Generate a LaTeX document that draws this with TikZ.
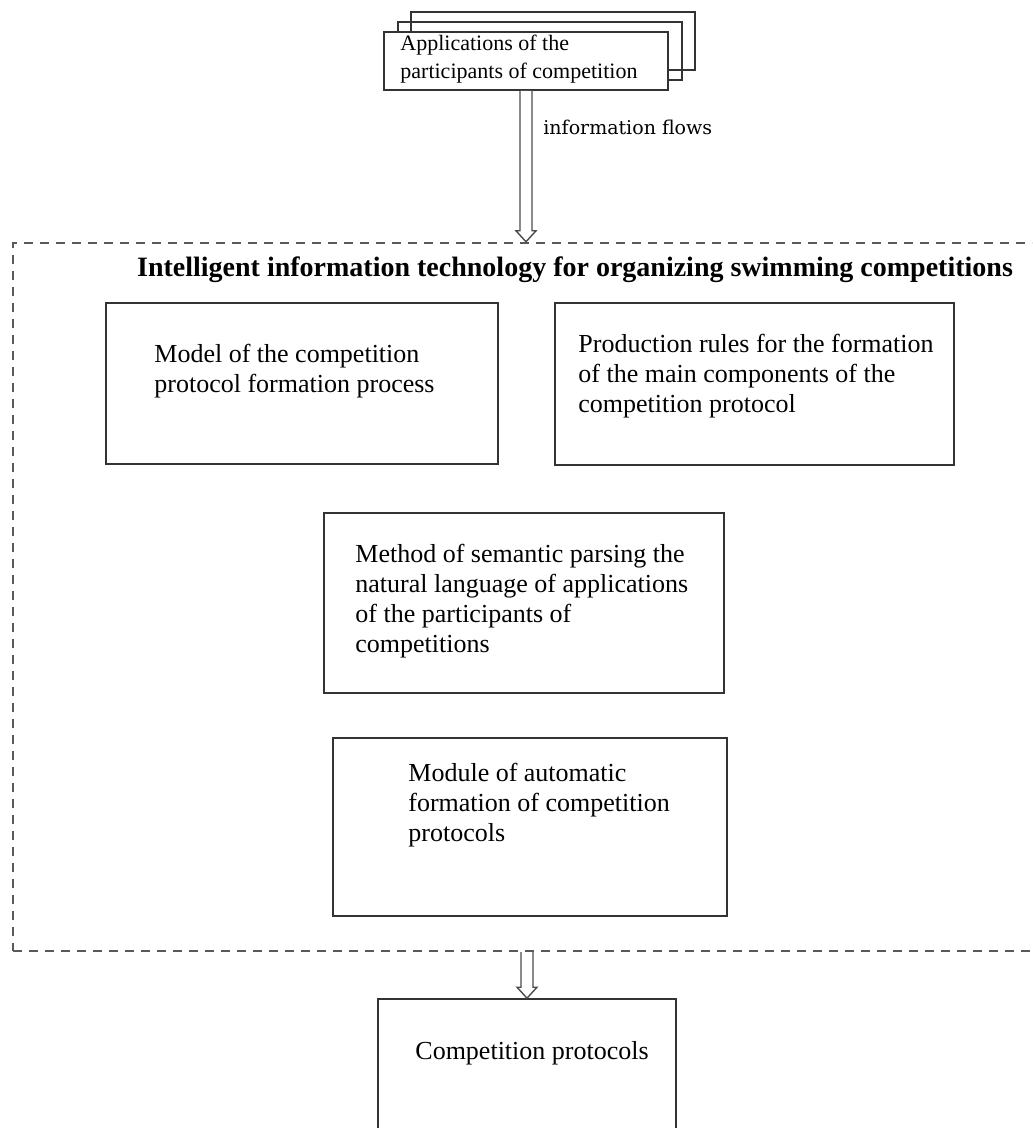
\documentclass[tikz,border=0pt]{standalone}
\usepackage{fontspec}
\setmainfont{Liberation Serif}
\newfontfamily\flowfont{DejaVu Serif}
\usepackage{tikz}
\usetikzlibrary{calc}
\definecolor{framegray}{rgb}{0.35,0.35,0.35}

% hollow arrow for the information flows
\newcommand{\flowarrow}[2]{%
  \draw[flowline] let \p1=(#1), \p2=(#2) in
    (\x1-3pt,\y1) -- (\x1-3pt,\y2+5.5pt) -- (\x1-5pt,\y2+5.5pt) -- (\x1,\y2)
    -- (\x1+5pt,\y2+5.5pt) -- (\x1+3pt,\y2+5.5pt) -- (\x1+3pt,\y1);}

\begin{document}
\begin{tikzpicture}[x=0.5pt,y=-0.5pt,
    box/.style={draw=black!80,line width=0.8pt,inner sep=0},
    appbox/.style={box,minimum width=142pt,minimum height=29pt},
    boxtext/.style={anchor=north west,inner sep=0,align=left,font=\fontsize{13}{15}\selectfont},
    flowline/.style={draw=black!70,line width=0.7pt,fill=white,line join=miter}]
      \useasboundingbox (0,0) rectangle (1032,1128);
      \clip (0,0) rectangle (1032,1128);
      % Applications (stacked sheets)
      \foreach \d/\dx/\dy in {2/27/-20,1/14/-10}
        \node[appbox] (apps\d) at (526+\dx,61+\dy) {};
      \node[appbox,fill=white] (apps) at (526,61) {};
      \node[boxtext,font=\fontsize{11}{14}\selectfont] (appstext) at (400,35) {Applications of the\\participants of competition};
      % Technology frame
      \node[draw=framegray,line width=1.2pt,dash pattern=on 4.5pt off 3.5pt,
            minimum width=516pt,minimum height=354pt,inner sep=0] (tech) at (529,597) {};
      \node[font=\bfseries\fontsize{14}{16}\selectfont,inner sep=0] (title) at (575,270)
        {Intelligent information technology for organizing swimming competitions};
      % Flows
      \flowarrow{apps.south}{apps.south |- tech.north}
      \node[anchor=west,inner sep=0,font=\flowfont\fontsize{9.5}{11}\selectfont] (flows) at (543,127) {information flows};
      % Components
      \node[box,minimum width=196pt,minimum height=80.5pt] (model) at (302,383.5) {};
      \node[boxtext] (modeltext) at (154,344) {Model of the competition\\protocol formation process};
      \node[box,minimum width=199.5pt,minimum height=81pt] (rules) at (754.5,384) {};
      \node[boxtext] (rulestext) at (578,334) {Production rules for the formation\\of the main components of the\\competition protocol};
      \node[box,minimum width=200pt,minimum height=90pt] (method) at (524,603) {};
      \node[boxtext] (methodtext) at (355,544) {Method of semantic parsing the\\natural language of applications\\of the participants of\\competitions};
      \node[box,minimum width=197pt,minimum height=89pt] (module) at (530,827) {};
      \node[boxtext] (moduletext) at (408,763) {Module of automatic\\formation of competition\\protocols};
      % Output
      \node[box,minimum width=149pt,minimum height=70.5pt] (protocols) at (527,1069.5) {};
      \node[boxtext] (protocolstext) at (415,1041) {Competition protocols};
      \flowarrow{protocols.north |- tech.south}{protocols.north}
    \end{tikzpicture}
\end{document}
